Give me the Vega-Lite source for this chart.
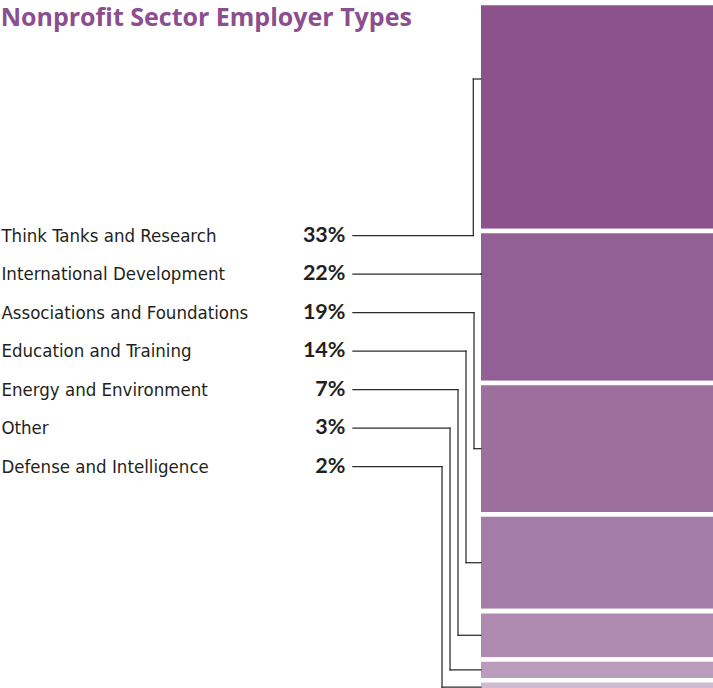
{
  "$schema": "https://vega.github.io/schema/vega-lite/v6.json",
  "width": 713,
  "height": 688,
  "autosize": {"type": "fit", "contains": "padding"},
  "padding": 0,
  "background": "white",
  "config": {"view": {"stroke": null}},
  "data": {
    "values": [
      {"category": "Think Tanks and Research", "pct": 33, "order": 1},
      {"category": "International Development", "pct": 22, "order": 2},
      {"category": "Associations and Foundations", "pct": 19, "order": 3},
      {"category": "Education and Training", "pct": 14, "order": 4},
      {"category": "Energy and Environment", "pct": 7, "order": 5},
      {"category": "Other", "pct": 3, "order": 6},
      {"category": "Defense and Intelligence", "pct": 2, "order": 7}
    ]
  },
  "transform": [
    {"stack": "pct", "groupby": [], "sort": [{"field": "order", "order": "ascending"}], "as": ["start", "end"]},
    {"calculate": "33.65 + 5.572 * (datum.order - 1)", "as": "rowPos"},
    {"calculate": "datum.order == 1 ? datum.start + datum.pct / 3 : datum.order == 2 ? datum.rowPos : (datum.start + datum.end) / 2", "as": "anchor"},
    {"calculate": "datum.order == 1 ? 66.38 : datum.order == 2 ? 67.46 : 69.85 - 1.122 * datum.order", "as": "bendX"},
    {"calculate": "datum.pct + '%'", "as": "pctLabel"}
  ],
  "layer": [
    {
      "mark": {"type": "bar", "stroke": "white", "strokeWidth": 4.6},
      "encoding": {
        "x": {"datum": 67.14, "type": "quantitative", "scale": {"domain": [0, 100], "range": [0, 713], "nice": false, "zero": false}, "axis": null},
        "x2": {"datum": 100.4},
        "y": {"field": "start", "type": "quantitative", "scale": {"domain": [0, 100], "range": [0, 691], "nice": false, "zero": false}, "axis": null},
        "y2": {"field": "end"},
        "color": {
          "field": "category",
          "type": "nominal",
          "legend": null,
          "scale": {
            "domain": ["Think Tanks and Research", "International Development", "Associations and Foundations", "Education and Training", "Energy and Environment", "Other", "Defense and Intelligence"],
            "range": ["#8b528c", "#936096", "#9d6f9d", "#a37da7", "#af8bb2", "#ba9bbd", "#cfbcd3"]
          }
        }
      }
    },
    {
      "mark": {"type": "rule", "color": "#2b2b2b", "strokeWidth": 1.25, "strokeCap": "square"},
      "encoding": {
        "x": {"field": "bendX", "type": "quantitative"},
        "x2": {"datum": 49.5},
        "y": {"field": "rowPos", "type": "quantitative"}
      }
    },
    {
      "mark": {"type": "rule", "color": "#2b2b2b", "strokeWidth": 1.25, "strokeCap": "square"},
      "encoding": {
        "x": {"field": "bendX", "type": "quantitative"},
        "y": {"field": "rowPos", "type": "quantitative"},
        "y2": {"field": "anchor"}
      }
    },
    {
      "mark": {"type": "rule", "color": "#2b2b2b", "strokeWidth": 1.25, "strokeCap": "square"},
      "encoding": {
        "x": {"field": "bendX", "type": "quantitative"},
        "x2": {"datum": 67.46},
        "y": {"field": "anchor", "type": "quantitative"}
      }
    },
    {
      "mark": {"type": "text", "align": "left", "baseline": "middle", "font": "'DejaVu Sans Condensed', 'DejaVu Sans', sans-serif", "fontSize": 18.5, "color": "#231f20"},
      "encoding": {
        "x": {"datum": 0.2, "type": "quantitative"},
        "y": {"field": "rowPos", "type": "quantitative"},
        "text": {"field": "category"}
      }
    },
    {
      "mark": {"type": "text", "align": "right", "baseline": "middle", "font": "Lato", "fontWeight": "bold", "fontSize": 21.5, "color": "#231f20"},
      "encoding": {
        "x": {"datum": 48.45, "type": "quantitative"},
        "y": {"field": "rowPos", "type": "quantitative"},
        "text": {"field": "pctLabel"}
      }
    },
    {
      "data": {"values": [{"title": "Nonprofit Sector Employer Types"}]},
      "mark": {"type": "text", "align": "left", "baseline": "alphabetic", "font": "Open Sans", "fontWeight": "bold", "fontSize": 25, "color": "#8b4e8e"},
      "encoding": {
        "x": {"datum": 0.1, "type": "quantitative"},
        "y": {"datum": 3.3, "type": "quantitative"},
        "text": {"field": "title"}
      }
    }
  ]
}
